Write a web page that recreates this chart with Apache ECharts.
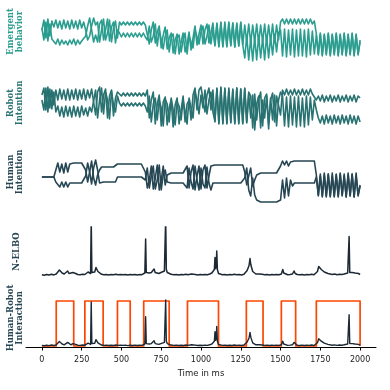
<!DOCTYPE html>
<html><head><meta charset="utf-8">
<script src="https://cdn.jsdelivr.net/npm/echarts@6/dist/echarts.min.js"></script>
<style>html,body{margin:0;padding:0;background:#fff}#c{width:390px;height:390px}</style>
</head><body><div id="c"></div>
<script>
// sample step of the trajectories (ms)
const STEP_MS = 12.5;
// Emergent behavior: two traces (values = depth within panel)
const EB_A = [20,10,28,9,26,11, 17,10,18,11,19,10,18,11,19,10,18,11,19,10,18,12, 20,30,26,16,8,15, 12,32,20,9,30,23,10,32,18,11,28, 12,15,12,15,12,15,12,15,12,15,12,15,12,15, 14,34,20,12,33,22,16,38,25,17,39,28,23,43,30,24,44,32,23,42,34,22,40,28,16,35,24,15, 34,20,14,33,23,13, 36,13,37,12,36,14,37,12,35,13,37,14,36,12,35, 15,32,14,33,15,32,14,33,15,32,14,33,15,32,14,33,15,30, 12,9,14,9,14,9,14,9,14,9,14,9,14,9,14,9,14,11, 24,45,23,46,24,45,23,46,24,45,23,46,24,45,23,46,24,45,23,46,24,45,30];
const EB_B = [18,30,12,31,14,29, 30,34,29,35,30,34,31,35,30,34,29,35,30,34,31,33, 26,16,8,20,32,25, 32,14,10,30,20,9,31,17,12,33,20, 23,27,23,27,23,27,23,27,23,27,23,27,23,27, 30,16,32,26,14,36,20,18,39,26,20,42,27,24,44,28,25,42,30,23,44,26,24,38,20,18,34,22, 16,34,26,15,34,20, 35,14,36,13,37,12,36,13,36,13,37,13,36,13,35, 48,26,50,28,51,27,50,26,48,28,50,26,48,27,45,24,42,23, 20,46,19,47,20,45,19,47,20,46,19,46,20,47,19,45,21,44, 25,44,24,45,25,44,24,45,25,44,24,45,25,44,24,45,25,44,24,45,25,44,32];
// Robot intention
const RI_A = [15,8,30,7,28,10,25, 10,20,9,19,10,20,9,20,10,19,9,20,10,19,9,20,10,18,9, 8,35,12,7,32,15,9,38,16,10,36,18,12, 13,16,13,16,13,16,13,16,13,16,13,16,13,16, 10,38,20,12,44,24,15,46,22,17,45,28,20,47,25,18,44,30,16,42,24,20,40,15,8,30,10,7, 8,32,15,8,30,10, 42,8,44,7,43,9,44,8,42,10,44,8,43,9,44,8,42,12, 16,48,14,40,20,12,46,18,14,44,20,13,42,16,14,35, 10,15,9,15,10,15,9,15,10,15,9,15,10,15,9,14,12, 20,16,21,15,22,16,21,15,22,16,21,15,22,16,21,15,22,16,21,15,22,16,18];
const RI_B = [20,30,8,32,9,29,12, 32,26,36,27,37,26,36,27,37,26,36,27,37,26,35,28,36,27,32, 30,10,38,20,8,34,12,20,39,11,25,32,16, 23,26,23,26,23,26,23,26,23,26,23,26,23,26, 32,16,42,24,18,40,20,28,46,19,24,42,18,30,45,22,26,40,20,32,44,18,28,38,12,20,34,15, 28,10,34,20,12,32, 41,9,43,8,44,8,43,10,43,9,43,8,44,9,43,9,43,14, 38,15,50,24,16,48,20,38,16,49,18,40,15,46,20,12, 16,46,17,47,16,45,17,47,16,46,18,47,16,45,17,40,20, 30,38,43,36,44,35,43,36,44,35,43,36,44,35,43,36,44,35,43,36,44,36,42];
// Human intention
const HI_A = [27,27,27,27,27,27,27, 20,13, 22,14,23,13,22,14,13, 13,13,13,13,13,13, 20,32,22,11,28,35,25, 20,17, 17,17,17,17,17,17,17, 14,16,14,16,14,16,14, 14,14,14,14,14,14,14, 22,38,30,16,39,28,15,40,30,16,35, 25,23,23,23,23,23,23,23,23,23, 16,38,22,15,40,26,16,39,20,15,38,26,16,15, 15,15,15,15,15,15,15,15,15,15,15,15,15,15,15, 22,35,26,18,36,30,25,23, 23,23,23,23,23,23,23,23,23,23, 16,11,15,11,16,12,11, 11,11,11,11,11,11,11,11,11,11,11, 25,46,24,47,23,46,24,47,23,46,24,47,23,46,24,47,23,46,24,47,23,46,35];
const HI_B = [27,27,27,27,27,27,27, 32,34, 37,32,37,32,37,33,33, 33,33,33,33,33,33, 26,13,22,34,18,10,20, 33,32, 32,32,32,32,32,32,32, 27,25,27,25,27,25,27, 27,27,27,27,27,27,27, 30,18,38,26,16,39,30,15,40,25,20, 32,33,33,33,33,33,33,33,33,33, 38,18,32,39,16,30,40,18,34,38,17,33,40,33, 33,33,33,33,33,33,33,33,33,33,33,33,33,33,33, 28,18,40,46,28,45,50,52, 52,52,52,52,52,52,52,52,52,52, 50,30,48,28,46,30,36, 33,33,33,33,33,33,33,33,33,33,33, 27,45,26,46,25,47,24,46,26,47,25,46,24,45,26,47,25,46,24,47,26,45,36];
// N-ELBO
const ELBO_T = [0,15,30,45,60,75,90,100,110,118,127,140,152,162,170,182,195,205,212,225,240,255,270,282,290,298,306,310,314,322,332,340,345,352,362,375,390,405,420,435,450,465,478,488,496,510,525,540,555,570,585,600,615,628,640,647,652,656,664,675,688,698,705,712,722,735,748,760,770,775,778,782,788,798,812,828,845,860,875,890,905,918,930,940,950,965,980,995,1010,1025,1040,1055,1068,1078,1084,1088,1092,1096,1099,1103,1110,1120,1135,1150,1165,1180,1195,1210,1225,1240,1255,1270,1282,1290,1296,1302,1308,1313,1318,1325,1333,1345,1355,1365,1375,1385,1400,1415,1430,1445,1460,1475,1490,1505,1514,1520,1530,1545,1560,1575,1585,1592,1605,1620,1635,1650,1665,1680,1695,1710,1722,1732,1740,1748,1756,1765,1775,1785,1798,1810,1825,1840,1855,1870,1885,1900,1912,1922,1927,1931,1935,1942,1950,1958,1968,1978,1990,2000];
const ELBO_V = [0.8,0.3,1.0,0.5,1.2,0.6,1.5,2.5,5.5,4.5,2.5,1.5,2.5,4.5,2,1.5,3,5,2,1,0.8,1.2,1,2.5,3.5,1.5,2,55,3,2,3.5,8,9.5,4,2,1.2,0.8,1.1,0.6,1,0.7,1.2,0.8,2.2,1,0.8,1.1,0.5,1,0.7,1.1,0.6,1,0.8,1.2,2.5,36.5,3,2,2.5,3,4,6.5,3,2.5,2,3,3.5,4.5,6,57.5,6,3,2,1.2,0.8,1.1,0.6,1,0.7,1.2,0.8,2.5,1.5,0.8,1.1,0.6,1,0.7,1.1,0.8,1.5,2.5,3.5,6,18,7,10,24.5,6,2,1.2,0.8,1.1,0.6,1,0.7,1.2,0.8,1.1,0.6,1.2,2,5,7,10,17,11,8,4,2.5,1.5,3,1.5,3,1.2,0.8,1.1,0.6,1,0.8,1.1,0.7,1.5,6,2.5,1,0.8,1.1,1.5,4.5,2,1,0.7,1.1,0.6,1,0.8,1.2,0.7,1.5,4,9,8,6,4.5,3.5,2.5,2,1.5,1,1.4,0.8,1.2,1,1.5,1.2,2.5,3,39,3,2,3,1.5,2.5,1.2,2,1];
// Human-robot interaction intervals (ms)
const HRI_ON = [[90,200],[270,385],[475,555],[640,800],[915,1110],[1285,1390],[1505,1595],[1725,2000]];
const X_TICKS = [0,250,500,750,1000,1250,1500,1750,2000];

const sampled = arr => arr.map((v, i) => [i * STEP_MS, v]);
const elbo = ELBO_T.map((t, i) => [t, ELBO_V[i]]);
const pulse = [[0, 0]];
HRI_ON.forEach(([a, b]) => { pulse.push([a, 0], [a, 1], [b, 1], [b, 0]); });

const C_EB = '#2a9d8f', C_RI = '#287271', C_HI = '#264653', C_EL = '#1c2833', C_OR = '#ff4500';
const grids = [
  {left: 26, right: 14, top: 10, height: 55},
  {left: 26, right: 14, top: 80, height: 55},
  {left: 26, right: 14, top: 150, height: 58},
  {left: 26, right: 14, top: 227, height: 51},
  {left: 26, right: 14, top: 296, height: 51}
];
const hiddenX = g => ({gridIndex: g, type: 'value', min: -100, max: 2100, show: false});
const xAxes = [0,1,2,3].map(hiddenX);
xAxes.push({
  gridIndex: 4, type: 'value', min: -100, max: 2100,
  axisLine: {show: true, onZero: false, lineStyle: {color: '#000', width: 1}},
  axisTick: {show: true, customValues: X_TICKS, length: 3.5, lineStyle: {color: '#000', width: 1}},
  axisLabel: {customValues: X_TICKS, fontSize: 8, color: '#222', margin: 9, fontFamily: 'DejaVu Sans',
    formatter: v => String(v)},
  splitLine: {show: false},
  name: 'Time in ms', nameLocation: 'middle', nameGap: 22,
  nameTextStyle: {fontSize: 8.5, color: '#222', fontFamily: 'DejaVu Sans'}
});
const yAxes = [
  {gridIndex: 0, type: 'value', inverse: true, min: 0, max: 55, show: false},
  {gridIndex: 1, type: 'value', inverse: true, min: 0, max: 55, show: false},
  {gridIndex: 2, type: 'value', inverse: true, min: 0, max: 58, show: false},
  {gridIndex: 3, type: 'value', min: -2.5, max: 48.5, show: false},
  {gridIndex: 4, type: 'value', min: -1.25, max: 62.5, show: false},
  {gridIndex: 4, type: 'value', min: -0.0222, max: 1.111, show: false}
];
const line = (data, xi, yi, color, w, z) => ({
  type: 'line', data, xAxisIndex: xi, yAxisIndex: yi, showSymbol: false, symbol: 'none',
  lineStyle: {color, width: w, join: 'round'}, silent: true, animation: false, clip: true, z: z || 2
});
const series = [
  line(sampled(EB_A), 0, 0, C_EB, 1.6), line(sampled(EB_B), 0, 0, C_EB, 1.6),
  line(sampled(RI_A), 1, 1, C_RI, 1.6), line(sampled(RI_B), 1, 1, C_RI, 1.6),
  line(sampled(HI_A), 2, 2, C_HI, 1.6), line(sampled(HI_B), 2, 2, C_HI, 1.6),
  line(elbo, 3, 3, C_EL, 1.5),
  line(pulse, 4, 5, C_OR, 1.7, 2),
  line(elbo, 4, 4, C_EL, 1.4, 3)
];
const lab = (text, x, y, color) => ({
  type: 'text', x, y, rotation: Math.PI / 2,
  style: {text, fill: color, align: 'center', verticalAlign: 'middle',
    font: 'bold 8.5px "DejaVu Serif"', lineHeight: 9.5}
});
const chart = echarts.init(document.getElementById('c'), null, {renderer: 'canvas'});
chart.setOption({
  animation: false, backgroundColor: '#fff',
  grid: grids, xAxis: xAxes, yAxis: yAxes, series,
  graphic: [
    lab('Emergent\nbehavior', 15.5, 31.5, C_EB),
    lab('Robot\nIntention', 15.5, 103, C_RI),
    lab('Human\nIntention', 15.5, 172, C_HI),
    lab('N-ELBO', 17, 251.5, C_HI),
    lab('Human-Robot\nInteraction', 15.5, 318, C_HI)
  ]
});
</script></body></html>
